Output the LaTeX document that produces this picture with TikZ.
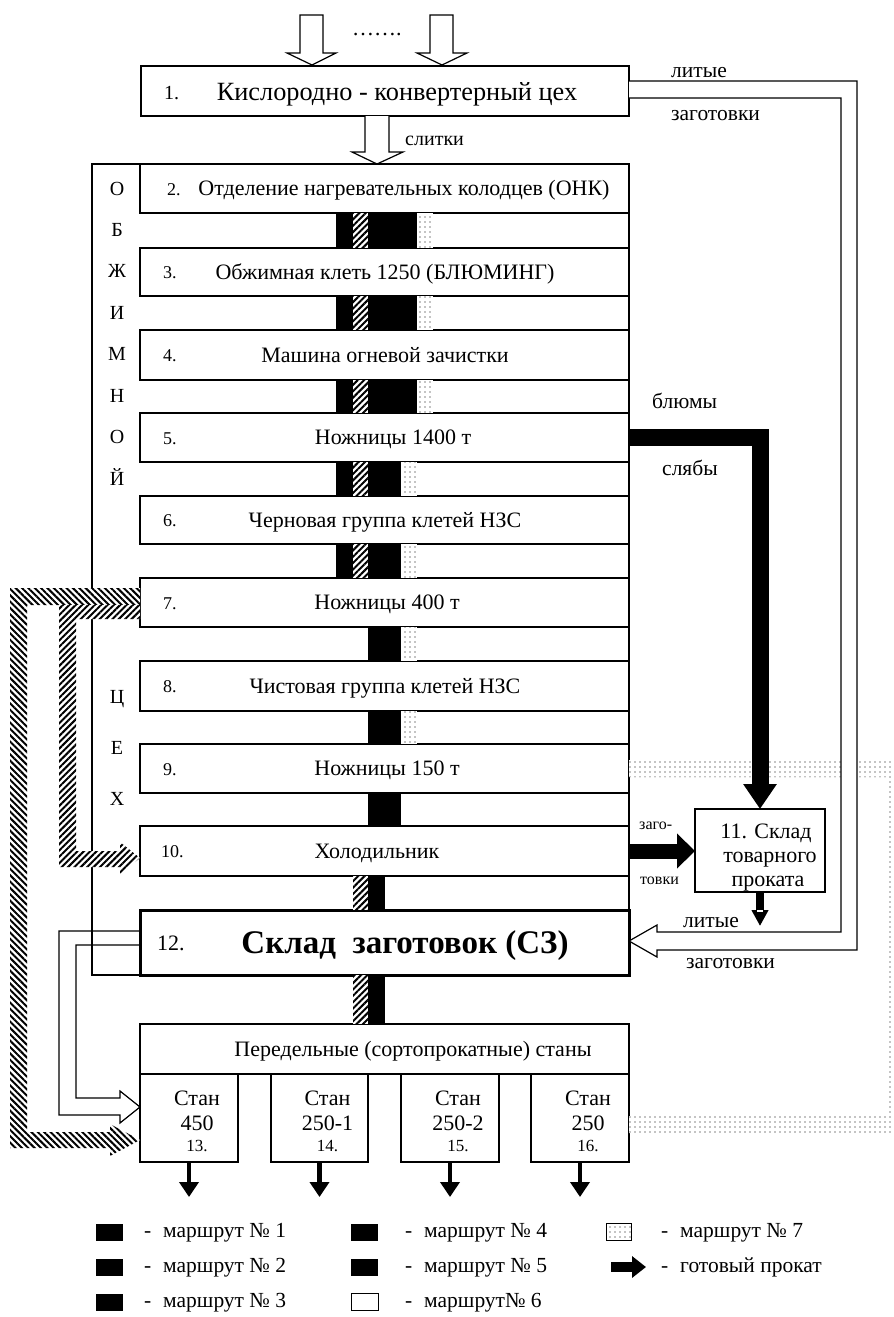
\documentclass[tikz,border=0pt]{standalone}
\usepackage{fontspec}
\setmainfont{Liberation Serif}
\usetikzlibrary{arrows.meta,patterns.meta}

\newcommand\fsz[1]{\fontsize{#1}{#1}\selectfont}
% filled band between two stacked boxes, from x=#3 to x=#4
\newcommand\band[5]{\path[#5] (#1.south -| #3,0) rectangle (#2.north -| #4,0);}

\tikzset{
  box/.style={draw, fill=white, line width=1.2pt, inner sep=0pt, outer sep=0pt, anchor=north west},
  lbl/.style={inner sep=0pt, anchor=base, font=\fsz{22}},
  num/.style={inner sep=0pt, anchor=base west, font=\fsz{18}},
  side/.style={inner sep=0pt, anchor=base, font=\fsz{20}},
  note/.style={inner sep=0pt, anchor=base west, font=\fsz{21.5}},
  small/.style={inner sep=0pt, anchor=base west, font=\fsz{16}},
  legend/.style={inner sep=0pt, anchor=base west, font=\fsz{21.5}},
  hollow/.style={draw, fill=white, line width=1.2pt},
  blk/.style={fill=black},
  hatchne/.style={preaction={fill=white}, pattern={Lines[angle=45,distance=4.5pt,line width=2pt]}},
  hatchnw/.style={preaction={fill=white}, pattern={Lines[angle=-45,distance=4.5pt,line width=2pt]}},
  dotfill/.style={preaction={fill=white}, pattern={Dots[distance=5pt,radius=0.7pt]}},
}

\begin{document}
\begin{tikzpicture}[x=1pt, y=-1pt, line join=miter]
\useasboundingbox (0,0) rectangle (894,1317);

% ---- frame of the blooming shop
\node[draw, line width=1.2pt, inner sep=0pt, outer sep=0pt, anchor=north west,
      minimum width=537pt, minimum height=811pt] (frame) at (92,164) {};

% ---- boxes
\node[box, minimum width=488pt, minimum height=50pt] (b1) at (141,66) {};
\node[box, minimum width=489pt, minimum height=49pt] (b2) at (140,164) {};
\node[box, minimum width=489pt, minimum height=48pt] (b3) at (140,248) {};
\node[box, minimum width=489pt, minimum height=50pt] (b4) at (140,330) {};
\node[box, minimum width=489pt, minimum height=49pt] (b5) at (140,413) {};
\node[box, minimum width=489pt, minimum height=48pt] (b6) at (140,496) {};
\node[box, minimum width=489pt, minimum height=49pt] (b7) at (140,578) {};
\node[box, minimum width=489pt, minimum height=50pt] (b8) at (140,661) {};
\node[box, minimum width=489pt, minimum height=49pt] (b9) at (140,744) {};
\node[box, minimum width=489pt, minimum height=50pt] (b10) at (140,826) {};
\node[box, line width=3pt, minimum width=489pt, minimum height=65pt] (b12) at (140,910) {};
\node[box, minimum width=130pt, minimum height=83pt] (b11) at (695,809) {};
\node[box, minimum width=489pt, minimum height=50pt] (bP) at (140,1024) {};
\node[box, minimum width=98pt, minimum height=88pt] (s13) at (140,1074) {};
\node[box, minimum width=97pt, minimum height=88pt] (s14) at (271,1074) {};
\node[box, minimum width=98pt, minimum height=88pt] (s15) at (401,1074) {};
\node[box, minimum width=98pt, minimum height=88pt] (s16) at (531,1074) {};

% ---- route bands between the units
\foreach \u/\l in {b2/b3,b3/b4,b4/b5}{
  \band{\u}{\l}{336}{417}{blk}
  \band{\u}{\l}{353}{368}{hatchne}
  \band{\u}{\l}{417}{433}{dotfill}
}
\foreach \u/\l in {b5/b6,b6/b7}{
  \band{\u}{\l}{336}{401}{blk}
  \band{\u}{\l}{353}{368}{hatchne}
  \band{\u}{\l}{401}{417}{dotfill}
}
\foreach \u/\l in {b7/b8,b8/b9}{
  \band{\u}{\l}{368}{401}{blk}
  \band{\u}{\l}{401}{417}{dotfill}
}
\band{b9}{b10}{368}{401}{blk}
\foreach \u/\l in {b10/b12,b12/bP}{
  \band{\u}{\l}{353}{368}{hatchne}
  \band{\u}{\l}{368}{385}{blk}
}

% ---- hatched routes on the left
\path[hatchnw] (b7.west |- 0,588) -- (10,588) -- (10,1148) -- (110,1148) -- (110,1156)
  -- (s13.west |- 0,1140) -- (110,1124) -- (110,1132) -- (27,1132) -- (27,605)
  -- (b7.west |- 0,605) -- cycle;
\path[hatchne] (b7.west |- 0,605) -- (59,605) -- (59,867) -- (120,867) -- (120,874)
  -- (b10.west |- 0,858) -- (120,842) -- (120,851) -- (76,851) -- (76,619)
  -- (b7.west |- 0,619) -- cycle;

% ---- hollow route from the billet store to mill 450
\draw[line width=1.2pt] (b12.west |- 0,931) -- (59,931) -- (59,1115) -- (120,1115) -- (120,1123)
  -- (s13.west |- 0,1107) -- (120,1091) -- (120,1098) -- (76,1098) -- (76,945) -- (b12.west |- 0,945);

% ---- dotted route 7
\path[dotfill] (b9.east |- 0,760) -- (903,760) -- (903,1133) -- (s16.east |- 0,1133)
  -- (s16.east |- 0,1116) -- (886,1116) -- (886,777) -- (b9.east |- 0,777) -- cycle;

% ---- cast billets: converter shop to billet store
\draw[hollow] (b1.east |- 0,81) -- (857,81) -- (857,950) -- (657,950) -- (657,957)
  -- (b12.east |- 0,941) -- (657,925) -- (657,932) -- (841,932) -- (841,98) -- (b1.east |- 0,98);

% ---- incoming arrows and ingots
\draw[hollow] (300,15) -- (323,15) -- (323,53) -- (336,53) -- (312,65) -- (287,53) -- (300,53) -- cycle;
\draw[hollow] (430,15) -- (453,15) -- (453,53) -- (467,53) -- (442,65) -- (417,53) -- (430,53) -- cycle;
\draw[hollow] (365,116) -- (365,152) -- (352,152) -- (377,164) -- (403,152) -- (389,152) -- (389,116);

% ---- blooms / slabs to the product store
\draw[line width=17pt, -{Triangle[width=32pt,length=25pt]}] (b5.east) -| (b11.north);
\draw[line width=15pt, -{Triangle[width=34pt,length=18pt]}] (b10.east) -- (b11.west |- b10.east);
\draw[line width=8pt, -{Triangle[width=16pt,length=16pt]}] (b11.south) -- ++(0,34);
\fill[white] (757,910) rectangle (763,912);
\foreach \s in {s13,s14,s15,s16}
  \draw[line width=4.5pt, -{Triangle[width=19pt,length=15pt]}] (\s.south) -- ++(0,35);

% ---- texts in the boxes
\node[inner sep=0pt, anchor=base west, font=\fsz{20}] (n1) at (164,99) {1.};
\node[inner sep=0pt, anchor=base, font=\fsz{26.3}] (t1) at (397,100) {Кислородно - конвертерный цех};
\node[num] (n2) at (167,195) {2.};
\node[lbl] (t2) at (404,195.5) {Отделение нагревательных колодцев (ОНК)};
\node[num] (n3) at (163,278) {3.};
\node[lbl] (t3) at (385,279) {Обжимная клеть 1250 (БЛЮМИНГ)};
\node[num] (n4) at (163,361) {4.};
\node[lbl] (t4) at (385,362) {Машина огневой зачистки};
\node[num] (n5) at (163,444) {5.};
\node[lbl] (t5) at (393,444.5) {Ножницы 1400 т};
\node[num] (n6) at (163,526) {6.};
\node[lbl] (t6) at (385,527) {Черновая группа клетей НЗС};
\node[num] (n7) at (163,609) {7.};
\node[lbl] (t7) at (387,609.5) {Ножницы 400 т};
\node[num] (n8) at (163,692) {8.};
\node[lbl] (t8) at (385,693) {Чистовая группа клетей НЗС};
\node[num] (n9) at (163,775) {9.};
\node[lbl] (t9) at (387,775.5) {Ножницы 150 т};
\node[num] (n10) at (161,857) {10.};
\node[lbl] (t10) at (377,858) {Холодильник};
\node[inner sep=0pt, anchor=base west, font=\fsz{22}] (n12) at (157,950) {12.};
\node[inner sep=0pt, anchor=base, font=\bfseries\fsz{33}] (t12) at (405,953.5) {Склад\ \ заготовок (СЗ)};
\node[lbl] (tP) at (413,1056) {Передельные (сортопрокатные) станы};

\node[lbl] (k11a) at (766,838) {11. Склад};
\node[lbl] (k11b) at (770,862) {товарного};
\node[lbl] (k11c) at (768,886) {проката};

\foreach \s/\m/\k in {s13/450/13., s14/250-1/14., s15/250-2/15., s16/250/16.}{
  \node[lbl] (\s a) at ([xshift=8pt]\s.north |- 0,1105) {Стан};
  \node[lbl] (\s b) at ([xshift=8pt]\s.north |- 0,1130) {\m};
  \node[inner sep=0pt, anchor=base, font=\fsz{17}] (\s c) at ([xshift=8pt]\s.north |- 0,1151) {\k};
}

% ---- letters of the shop name
\foreach \c/\y [count=\i] in {О/195, Б/236, Ж/277.5, И/319, М/360.5, Н/402, О/443.5, Й/485, Ц/703.5, Е/754.5, Х/805.5}
  \node[side] (let\i) at (117,\y) {\c};

% ---- flow labels
\node[inner sep=0pt, anchor=base west, font=\fsz{22}] (dots) at (352,35) {…….};
\node[inner sep=0pt, anchor=base west, font=\fsz{20}] (ingot) at (405,145) {слитки};
\node[note] (lit1) at (671,77) {литые};
\node[note] (zag1) at (671,120) {заготовки};
\node[note] (blm) at (652,408) {блюмы};
\node[note] (slb) at (662,475) {слябы};
\node[small] (zg1) at (639,829) {заго-};
\node[small] (zg2) at (640,884) {товки};
\node[note] (lit2) at (683,927) {литые};
\node[note] (zag2) at (686,968) {заготовки};

% ---- legend
\node[fill=black, inner sep=0pt, minimum width=27pt, minimum height=17pt] (r1) at (109.5,1232) {};
\node[fill=black, inner sep=0pt, minimum width=27pt, minimum height=17pt] (r2) at (109.5,1267) {};
\node[fill=black, inner sep=0pt, minimum width=27pt, minimum height=17pt] (r3) at (109.5,1302) {};
\node[fill=black, inner sep=0pt, minimum width=27pt, minimum height=17pt] (r4) at (364.5,1232) {};
\node[fill=black, inner sep=0pt, minimum width=27pt, minimum height=17pt] (r5) at (364.5,1267) {};
\node[draw, line width=1pt, fill=white, inner sep=0pt, minimum width=27pt, minimum height=17pt] (r6) at (364.5,1302) {};
\node[draw, line width=0.8pt, dotfill, inner sep=0pt, minimum width=25pt, minimum height=17pt] (r7) at (618.5,1232) {};
\coordinate (g0) at (611,1267);
\coordinate (g1) at (646,1267);
\draw[line width=10pt, -{Triangle[width=21pt,length=14pt]}] (g0) -- (g1);

\foreach \r/\x/\y/\t in {r1/144/1237/маршрут № 1, r2/144/1272/маршрут № 2, r3/144/1307/маршрут № 3,
                        r4/405/1237/маршрут № 4, r5/405/1272/маршрут № 5, r6/405/1307/маршрут№ 6,
                        r7/661/1237/маршрут № 7, g1/661/1272/готовый прокат}{
  \node[legend] (\r d) at (\x,\y) {-};
  \node[legend] (\r t) at (\x+19,\y) {\t};
}
\end{tikzpicture}
\end{document}
